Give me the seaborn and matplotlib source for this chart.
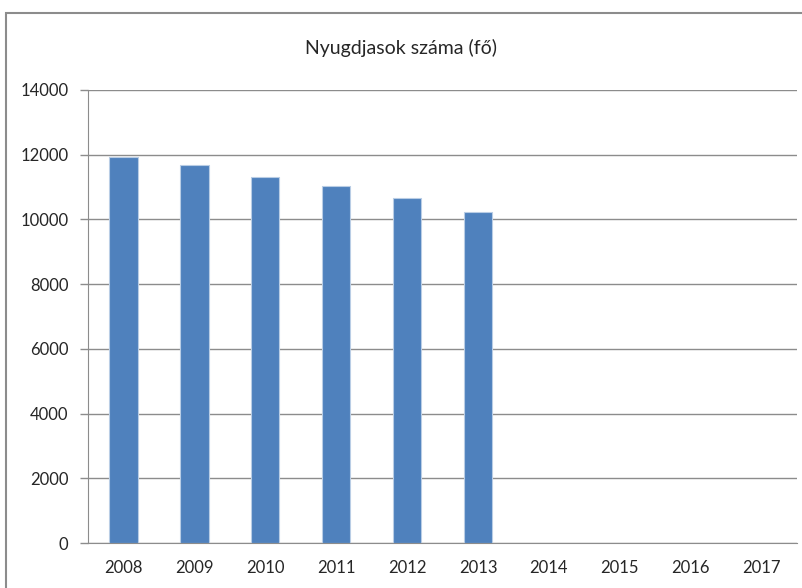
import numpy as np
import pandas as pd
import matplotlib
matplotlib.use("Agg")
import matplotlib.pyplot as plt
import seaborn as sns
from matplotlib.patches import Rectangle
from matplotlib.ticker import FixedLocator

# Chart data
years = ["2008", "2009", "2010", "2011", "2012", "2013", "2014", "2015", "2016", "2017"]
pensioners = [11940, 11670, 11315, 11025, 10665, 10240, np.nan, np.nan, np.nan, np.nan]
y_ticks = [0, 2000, 4000, 6000, 8000, 10000, 12000, 14000]

sns.set_style("white")
plt.rcParams["font.family"] = ["Lato", "DejaVu Sans"]

df = pd.DataFrame({"ev": years, "fo": pensioners})

fig = plt.figure(figsize=(8.02, 5.88), dpi=100)
ax = fig.add_axes([88 / 802, 45 / 588, (797 - 88) / 802, (543 - 90) / 588])

# outer chart frame (cut off at right and bottom like the original)
fig.patches.append(Rectangle((6 / 802, -0.05), 1.2, (588 - 13) / 588 + 0.05,
                             transform=fig.transFigure, fill=False,
                             edgecolor="#8c8c8c", linewidth=1.5))

sns.barplot(data=df, x="ev", y="fo", order=years, color="#4f81bd",
            width=0.4, saturation=1, ax=ax, errorbar=None,
            edgecolor="#b9cde5", linewidth=0.8)

ax.set_ylim(0, 14000)
ax.set_xlim(-0.5, len(years) - 0.5)
ax.set_yticks(y_ticks)
ax.set_yticklabels([str(t) for t in y_ticks], fontsize=12)
ax.yaxis.grid(True, color="#8c8c8c", linewidth=1)
ax.set_axisbelow(True)

ax.set_xticks(range(len(years)))
ax.set_xticklabels(years, fontsize=12)
ax.tick_params(axis="x", which="major", length=0, pad=12)
ax.xaxis.set_minor_locator(FixedLocator(np.arange(-0.5, len(years), 1.0)))
ax.tick_params(axis="x", which="minor", length=8, color="#8c8c8c", width=1)
ax.tick_params(axis="y", length=6, color="#8c8c8c", width=1, left=True, pad=8)

for side in ["top", "right"]:
    ax.spines[side].set_visible(False)
ax.spines["left"].set_color("#8c8c8c")
ax.spines["bottom"].set_color("#8c8c8c")

ax.set_xlabel("")
ax.set_ylabel("")
fig.text(0.5, 1 - 48 / 588, "Nyugdjasok száma (fő)", ha="center", va="center",
         fontsize=14)

fig.savefig("out.png", dpi=100)
